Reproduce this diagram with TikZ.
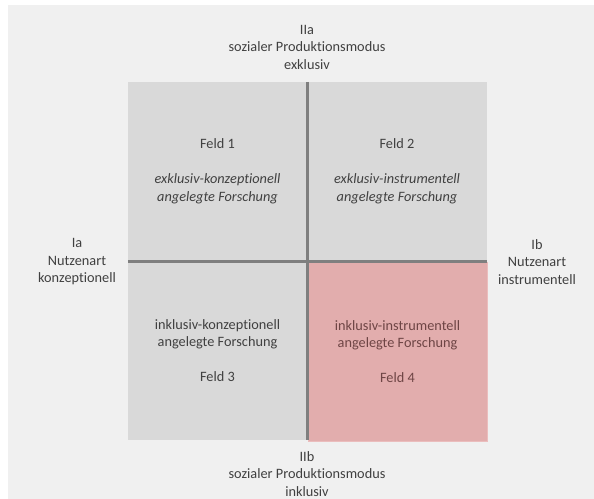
\documentclass[tikz,border=0pt]{standalone}
\usepackage{fontspec}
\setmainfont{Carlito}[Ligatures=NoCommon]
\usetikzlibrary{positioning,calc}

\definecolor{bgcol}{HTML}{F0F0F0}
\definecolor{feldcol}{HTML}{D9D9D9}
\definecolor{rotcol}{HTML}{E2ADAD}
\definecolor{rotrand}{HTML}{EBBDBD}
\definecolor{linecol}{HTML}{7F7F7F}
\definecolor{txtcol}{HTML}{404040}
\definecolor{rottxt}{HTML}{6E4545}

\tikzset{
  feld/.style={rectangle, fill=feldcol, minimum width=179bp, minimum height=179bp,
    inner sep=0pt, align=center, text=txtcol},
  achse/.style={align=center, text=txtcol, inner sep=0pt},
  teiler/.style={draw=linecol, line width=2.6bp}
}

\begin{document}
\begin{tikzpicture}[x=1bp, y=-1bp, font=\fontsize{14.3bp}{17.5bp}\selectfont]
  \useasboundingbox (0,0) rectangle (594,499);
  %%
  % background
  \fill[bgcol] (8,5) rectangle (594,499);
  %
  % Node: q1
  \node[feld] (q1) at (217.5,171.5) {Feld 1\\[17.5bp]\textit{exklusiv-konzeptionell}\\\textit{angelegte Forschung}};
  % Node: q2
  \node[feld] (q2) at (397,171.5) {Feld 2\\[17.5bp]\textit{exklusiv-instrumentell}\\\textit{angelegte Forschung}};
  % Node: q3
  \node[feld] (q3) at (217.5,350.5) {inklusiv-konzeptionell\\angelegte Forschung\\[17.5bp]Feld 3};
  % Node: q4
  \node[feld, fill=rotcol, draw=rotrand, line width=0.8bp, text=rottxt] (q4) at (397.5,351.5)
    {inklusiv-instrumentell\\angelegte Forschung\\[17.5bp]Feld 4};
  %
  % dividers
  \draw[teiler] (q1.north east) -- (q3.south east);
  \draw[teiler] (q1.south west) -- (q2.south east);
  %
  % Node: axis labels
  \node[achse] (oben) at (307,47) {IIa\\sozialer Produktionsmodus\\exklusiv};
  \node[achse] (unten) at (307,474) {IIb\\sozialer Produktionsmodus\\inklusiv};
  \node[achse] (links) at (77,262) {Ia\\Nutzenart\\konzeptionell};
  \node[achse] (rechts) at (537,262) {Ib\\Nutzenart\\instrumentell};
  %
\end{tikzpicture}
\end{document}
